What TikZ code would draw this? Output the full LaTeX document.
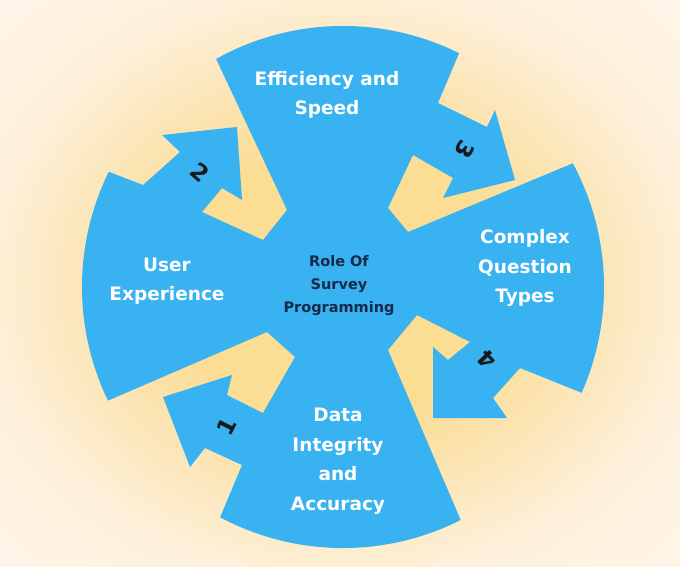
\documentclass[tikz,border=0pt]{standalone}
\usepackage{fontspec}
\setmainfont{DejaVu Sans}
\definecolor{bgin}{HTML}{FBDD94}
\definecolor{bgmid}{HTML}{FCE7BC}
\definecolor{bgedge}{HTML}{FEF0DA}
\definecolor{bgout}{HTML}{FFF5EA}
\definecolor{cycleblue}{HTML}{38B2F1}
\definecolor{navytext}{HTML}{15294A}
\pgfdeclareradialshading{bgshade}{\pgfpoint{0bp}{0bp}}{color(0bp)=(bgin); color(12bp)=(bgin); color(20bp)=(bgmid); color(26bp)=(bgedge); color(36bp)=(bgout)}
\tikzset{
  lobetext/.style={text=white, align=center, inner sep=0pt, font=\bfseries\fontsize{18.5}{29.5}\selectfont},
  centertext/.style={text=navytext, align=center, inner sep=0pt, font=\bfseries\fontsize{14.5}{23}\selectfont},
  numtext/.style={text=black!90, inner sep=0pt, font=\bfseries\fontsize{23}{23}\selectfont}
}
\begin{document}
\begin{tikzpicture}[x=1pt, y=-1pt]
\useasboundingbox (0,0) rectangle (680,567);
\shade[shading=bgshade] (0,0) rectangle (680,567);
\fill[cycleblue] (216.1,58.9) arc[start angle=-119.1, end angle=-63.6, radius=261]
 -- (438,103) -- (487,127) -- (495,110) -- (515,180) -- (443,198) -- (453,178) -- (413,155) -- (388,208) -- (408,232) -- (572.8,163.3)
 arc[start angle=-28.3, end angle=23.9, radius=261]
 -- (520,368) -- (493,398) -- (507,418) -- (433,418) -- (433,347) -- (448,360) -- (470,342) -- (417,315) -- (388,350) -- (460.7,520.0)
 arc[start angle=63.2, end angle=118.1, radius=261]
 -- (242,465) -- (205,448) -- (190,467) -- (163,397) -- (232,375) -- (227,395) -- (263,413) -- (295,357) -- (267,332) -- (108.0,400.6)
 arc[start angle=154.2, end angle=206.2, radius=261]
 -- (143,185) -- (180,152) -- (162,135) -- (237,127) -- (242,200) -- (222,188) -- (202,212) -- (263,240) -- (287,210) -- cycle;
\node[lobetext] (eff) at (327,95) {Efficiency and\\Speed};
\node[lobetext] (ux) at (167,281) {User\\Experience};
\node[lobetext] (cqt) at (525,268) {Complex\\Question\\Types};
\node[lobetext] (dia) at (338,461) {Data\\Integrity\\and\\Accuracy};
\node[centertext] (role) at (339,286) {Role Of\\Survey\\Programming};
\node[numtext, rotate=63] (n1) at (227,427) {1};
\node[numtext, rotate=-41] (n2) at (200,172) {2};
\node[numtext, rotate=-119.5] (n3) at (465,150) {3};
\node[numtext, rotate=134] (n4) at (487,360) {4};
\end{tikzpicture}
\end{document}
